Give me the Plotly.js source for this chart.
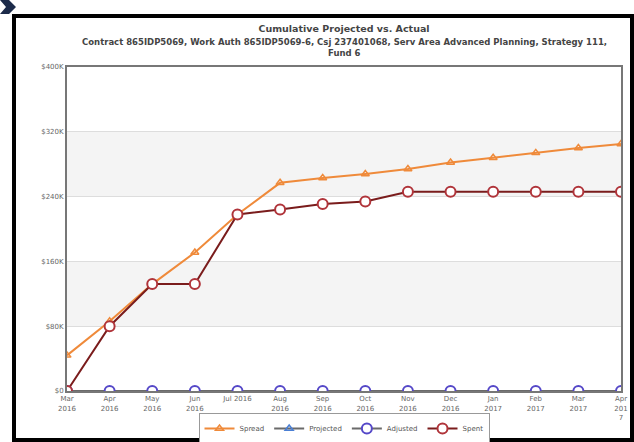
<!DOCTYPE html>
<html>
<head>
<meta charset="utf-8">
<script src="https://cdn.plot.ly/plotly-3.0.1.min.js"></script>
<style>html,body{margin:0;padding:0;background:#fff;}#chart{width:634px;height:442px;}</style>
</head>
<body>
<div id="chart"></div>
<script>
const months = ["Mar 2016","Apr 2016","May 2016","Jun 2016","Jul 2016","Aug 2016","Sep 2016","Oct 2016","Nov 2016","Dec 2016","Jan 2017","Feb 2017","Mar 2017","Apr 2017"];
const tickLabels = ["Mar<br>2016","Apr<br>2016","May<br>2016","Jun<br>2016","Jul 2016","Aug<br>2016","Sep<br>2016","Oct<br>2016","Nov<br>2016","Dec<br>2016","Jan<br>2017","Feb<br>2017","Mar<br>2017","Apr<br>201<br>7"];
const spread = [44000,86000,132000,171000,218000,257000,263000,268000,274000,282000,288000,294000,300000,305000];
const projected = [0,0,0,0,0,0,0,0,0,0,0,0,0,0];
const adjusted = [0,0,0,0,0,0,0,0,0,0,0,0,0,0];
const spent = [0,80000,132000,132000,218000,224000,231000,234000,246000,246000,246000,246000,246000,246000];
const yTicks = [0,80000,160000,240000,320000,400000];
const yTickLabels = ["$0","$80K","$160K","$240K","$320K","$400K"];

const L=67, R=621, T=67, B=391;
const px = x => (x - L)/(R - L);
const py = y => (B - y)/(B - T);

const traces = [
  {name:"Spread", x:months, y:spread, mode:"lines+markers", line:{color:"#ef8a3a", width:2},
   marker:{symbol:"triangle-up-open", size:7, color:"#ef8a3a", line:{width:1.5, color:"#ef8a3a"}}},
  {name:"Projected", x:months, y:projected, mode:"lines+markers", line:{color:"#6a6a6a", width:2},
   marker:{symbol:"triangle-up-open", size:7, color:"#4a7fd4", line:{width:1.5}}},
  {name:"Adjusted", x:months, y:adjusted, mode:"lines+markers", line:{color:"#6a6a6a", width:2},
   marker:{symbol:"circle", size:10, color:"#ffffff", line:{width:2, color:"#5548c8"}}},
  {name:"Spent", x:months, y:spent, mode:"lines+markers", line:{color:"#7a1c1c", width:2},
   marker:{symbol:"circle", size:10, color:"#ffffff", line:{width:2, color:"#b0343a"}}}
];

const shapes = [
  {type:"rect", xref:"paper", yref:"y", x0:0, x1:1, y0:80000, y1:160000, fillcolor:"#f4f4f4", line:{width:0}, layer:"below"},
  {type:"rect", xref:"paper", yref:"y", x0:0, x1:1, y0:240000, y1:320000, fillcolor:"#f4f4f4", line:{width:0}, layer:"below"},
  {type:"rect", xref:"paper", yref:"paper", x0:px(14), x1:px(632), y0:py(16), y1:py(440), line:{color:"#000", width:4}, layer:"above"},
  {type:"path", xref:"paper", yref:"paper", layer:"above",
   path:`M ${px(0)} ${py(0)} L ${px(9)} ${py(0)} L ${px(16)} ${py(7)} L ${px(9)} ${py(14)} L ${px(0)} ${py(14)} L ${px(6)} ${py(7)} Z`,
   fillcolor:"#1c2b4a", line:{width:0}}
];

const layout = {
  width:634, height:442,
  margin:{l:L, r:634-R, t:T, b:442-B, pad:0, autoexpand:false},
  paper_bgcolor:"#ffffff", plot_bgcolor:"#ffffff",
  font:{family:"DejaVu Sans, Verdana, sans-serif", color:"#555"},
  showlegend:true,
  title:{text:"<b>Cumulative Projected vs. Actual</b>", x:0.5, xanchor:"center", xref:"paper", y:1-29/442, yanchor:"middle", font:{size:9.5, color:"#444"}},
  annotations:[
    {text:"<b>Contract 865IDP5069, Work Auth 865IDP5069-6, Csj 237401068, Serv Area Advanced Planning, Strategy 111,</b>", xref:"paper", yref:"paper", x:0.5, y:py(42), xanchor:"center", yanchor:"middle", showarrow:false, font:{size:8.5, color:"#444"}},
    {text:"<b>Fund 6</b>", xref:"paper", yref:"paper", x:0.5, y:py(53), xanchor:"center", yanchor:"middle", showarrow:false, font:{size:8.5, color:"#444"}}
  ],
  xaxis:{type:"category", range:[0,13], tickvals:months, ticktext:tickLabels, showgrid:false,
    showline:true, linecolor:"#777", linewidth:2, mirror:true, ticks:"", tickfont:{size:7, color:"#666"}, fixedrange:true, zeroline:false, automargin:false},
  yaxis:{range:[0,400000], tickvals:yTicks, ticktext:yTickLabels, showgrid:true, gridcolor:"#dddddd", gridwidth:1,
    showline:true, linecolor:"#777", linewidth:2, mirror:true, ticks:"", tickfont:{size:7, color:"#666"}, zeroline:false, automargin:false},
  legend:{orientation:"h", x:0.5, xanchor:"center", y:py(413), yanchor:"top", bordercolor:"#999", borderwidth:1,
    font:{size:7, color:"#555"}, itemwidth:30, bgcolor:"#fff"},
  shapes:shapes
};

Plotly.newPlot("chart", traces, layout, {staticPlot:true, displayModeBar:false});
</script>
</body>
</html>
